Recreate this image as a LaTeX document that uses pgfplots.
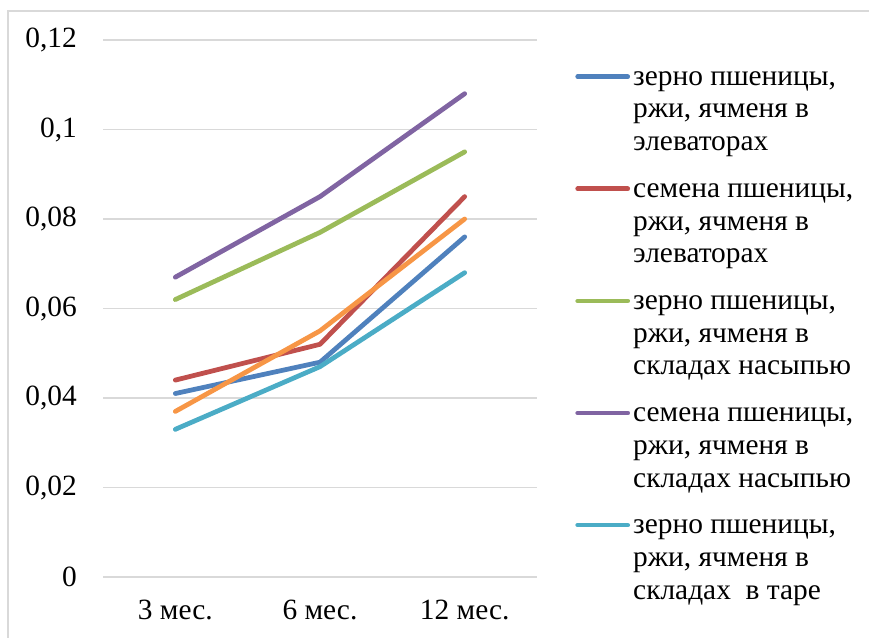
\documentclass[border=0pt]{standalone}
\usepackage{fontspec}
\setmainfont{Liberation Serif}
\newfontfamily\tnr{Liberation Serif}
\usepackage{pgfplots}
\pgfplotsset{compat=1.18}
\definecolor{cBlue}{HTML}{4F81BD}
\definecolor{cRed}{HTML}{C0504D}
\definecolor{cGreen}{HTML}{9BBB59}
\definecolor{cPurple}{HTML}{8064A2}
\definecolor{cCyan}{HTML}{4BACC6}
\definecolor{cOrange}{HTML}{F79646}
\definecolor{cGrid}{HTML}{D9D9D9}
\begin{document}
\begin{tikzpicture}
\useasboundingbox (0bp,0bp) rectangle (869bp,638bp);
\draw[color=cGrid, line width=1.2bp] (8bp,0bp) -- (8bp,627bp) -- (869bp,627bp);
\begin{axis}[
  at={(103bp,61bp)}, anchor=south west,
  scale only axis, width=434bp, height=537bp,
  xmin=-0.5, xmax=2.5, ymin=0, ymax=0.12,
  xtick={0,1,2}, xticklabels={3 мес., 6 мес., 12 мес.},
  ytick={0,0.02,0.04,0.06,0.08,0.1,0.12},
  yticklabels={0,{0,02},{0,04},{0,06},{0,08},{0,1},{0,12}},
  axis line style={draw=none}, tick style={draw=none},
  ymajorgrids, grid style={color=cGrid, line width=1.2bp},
  font=\tnr\fontsize{29.5}{33}\selectfont,
  yticklabel style={anchor=east, inner sep=0pt, xshift=-26bp, font=\tnr\fontsize{29.5}{33}\selectfont},
  xticklabel style={anchor=north, inner sep=0pt, yshift=-23bp, font=\tnr\fontsize{29.5}{33}\selectfont},
  clip=false,
  every axis plot/.append style={line width=4.75bp, line cap=round, line join=round},
  legend cell align=left,
  legend style={draw=none, fill=none, at={(1.0807,0.946)}, anchor=north west,
    row sep=31bp, column sep=3bp,
    nodes={align=left, inner sep=0pt, font=\tnr\fontsize{29.5}{33}\selectfont}},
  legend image code/.code={\path[draw=none] (0bp,-35bp) -- (55bp,-35bp); \draw[#1] (2.5bp,35bp) -- (52.5bp,35bp);},
]
\addplot[color=cBlue] coordinates {(0,0.041) (1,0.048) (2,0.076)};
\addlegendentry{зерно пшеницы,\\ржи, ячменя в\\элеваторах}
\addplot[color=cRed] coordinates {(0,0.044) (1,0.052) (2,0.085)};
\addlegendentry{семена пшеницы,\\ржи, ячменя в\\элеваторах}
\addplot[color=cGreen] coordinates {(0,0.062) (1,0.077) (2,0.095)};
\addlegendentry{зерно пшеницы,\\ржи, ячменя в\\складах насыпью}
\addplot[color=cPurple] coordinates {(0,0.067) (1,0.085) (2,0.108)};
\addlegendentry{семена пшеницы,\\ржи, ячменя в\\складах насыпью}
\addplot[color=cCyan] coordinates {(0,0.033) (1,0.047) (2,0.068)};
\addlegendentry{зерно пшеницы,\\ржи, ячменя в\\складах\ \ в таре}
\addplot[color=cOrange, forget plot] coordinates {(0,0.037) (1,0.055) (2,0.080)};
\end{axis}
\end{tikzpicture}
\end{document}
